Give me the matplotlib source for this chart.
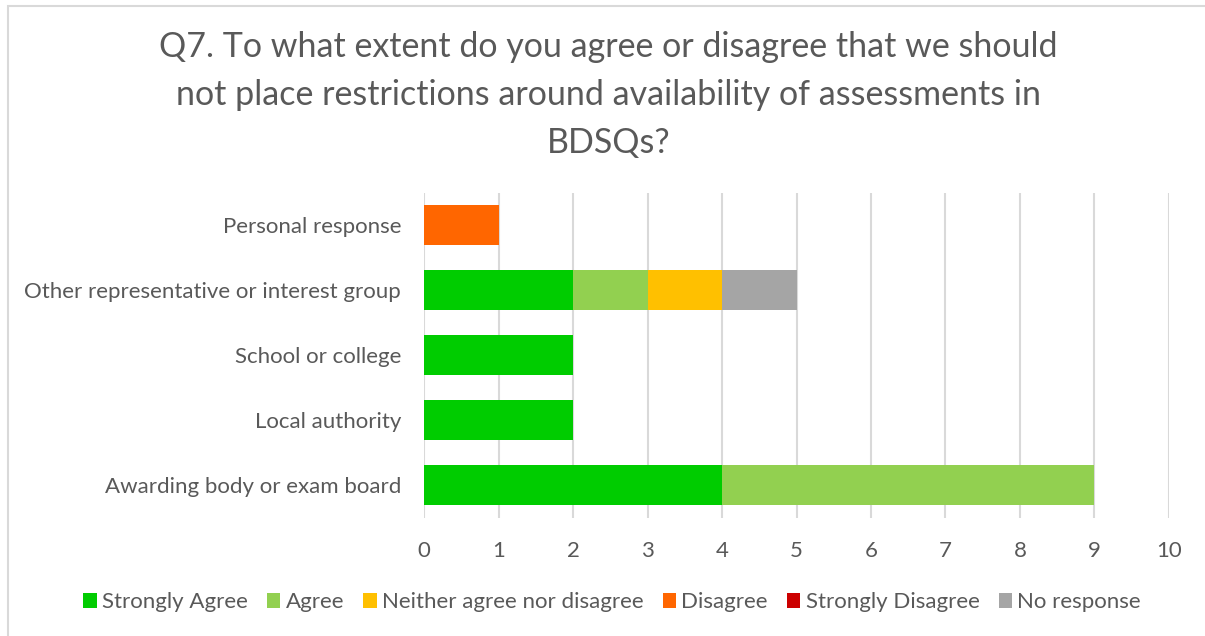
import matplotlib.pyplot as plt
from matplotlib.patches import Rectangle

plt.rcParams['font.family'] = ['Lato', 'DejaVu Sans']

categories = ["Awarding body or exam board", "Local authority", "School or college",
              "Other representative or interest group", "Personal response"]
series = ["Strongly Agree", "Agree", "Neither agree nor disagree", "Disagree",
          "Strongly Disagree", "No response"]
values = {
    "Strongly Agree":             [4, 2, 2, 2, 0],
    "Agree":                      [5, 0, 0, 1, 0],
    "Neither agree nor disagree": [0, 0, 0, 1, 0],
    "Disagree":                   [0, 0, 0, 0, 1],
    "Strongly Disagree":          [0, 0, 0, 0, 0],
    "No response":                [0, 0, 0, 1, 0],
}
colors = ["#00cc00", "#92d050", "#ffc000", "#ff6600", "#cc0000", "#a5a5a5"]
title = ("Q7. To what extent do you agree or disagree that we should\n"
         "not place restrictions around availability of assessments in\n"
         "BDSQs?")

txt = "#595959"
fig = plt.figure(figsize=(12.05, 6.36), dpi=100)
ax = fig.add_axes([0.352, 0.186, 0.618, 0.511])

left = [0] * len(categories)
for name, col in zip(series, colors):
    vals = values[name]
    ax.barh(categories, vals, left=left, height=0.62, color=col, label=name, zorder=3)
    left = [a + b for a, b in zip(left, vals)]

ax.set_xlim(0, 10)
ax.set_ylim(-0.5, len(categories) - 0.5)
ax.set_xticks(range(0, 11))
ax.grid(axis='x', color='#d9d9d9', linewidth=1.5, zorder=0)
for s in ax.spines.values():
    s.set_visible(False)
ax.tick_params(length=0, labelsize=16, colors=txt)
ax.tick_params(axis='x', pad=17)
ax.tick_params(axis='y', pad=16.5)

fig.text(0.505, 0.952, title, ha='center', va='top', fontsize=24.5, color=txt,
         linespacing=1.62)

leg = fig.legend(loc='center', bbox_to_anchor=(0.508, 0.053), ncol=6, frameon=False,
                 fontsize=16, handlelength=0.6, handleheight=0.6, handletextpad=0.25,
                 columnspacing=0.85, labelcolor=txt)

# outer chart border
fig.add_artist(Rectangle((0.007, -0.01), 1.2, 1.0, transform=fig.transFigure,
                         fill=False, edgecolor='#d9d9d9', linewidth=1.5))

fig.savefig("out.png", dpi=100)
